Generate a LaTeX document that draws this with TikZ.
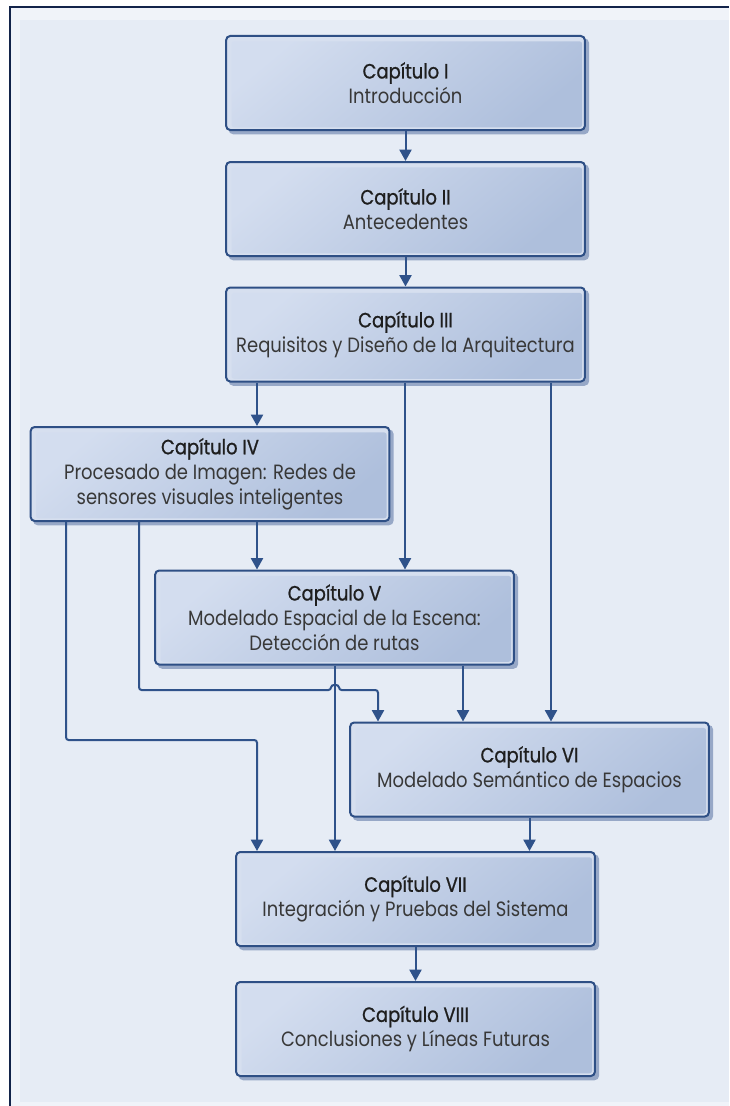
\documentclass[tikz,border=0pt]{standalone}
\usepackage{fontspec}
\setmainfont{Poppins}[FakeStretch=0.87]
\newfontfamily\headfont{Poppins}[FakeStretch=0.87,FakeBold=0.9]
\usetikzlibrary{arrows.meta}

\definecolor{pagebg}{HTML}{E6ECF5}
\definecolor{pagerim}{HTML}{F0F3F9}
\definecolor{frameline}{HTML}{13244A}
\definecolor{boxline}{HTML}{2E4F85}
\definecolor{boxrim}{HTML}{D6DFEF}
\definecolor{gradA}{HTML}{D3DDEF}
\definecolor{gradB}{HTML}{AEBFDC}
\definecolor{boxshadow}{HTML}{97A8C7}
\definecolor{arrowline}{HTML}{2F528A}
\definecolor{headtext}{HTML}{1E1E1E}
\definecolor{bodytext}{HTML}{383838}

\tikzset{
  chapter/.style={
    draw=boxline, line width=1.5pt, rounded corners=3pt, fill=boxrim,
    minimum width=269pt, minimum height=70.5pt, inner sep=0pt,
    align=center, text=bodytext,
    font=\fontsize{15.5}{18.75}\selectfont,
    preaction={fill=boxshadow, draw=boxshadow,
               transform canvas={xshift=2.5pt,yshift=-2.5pt}},
    path picture={
      \shade[top color=gradA, bottom color=gradB, shading angle=40,
             rounded corners=2pt]
        ([shift={(4pt,-4pt)}]path picture bounding box.north west)
        rectangle
        ([shift={(-2pt,2pt)}]path picture bounding box.south east);
    }
  },
  arr/.style={draw=arrowline, line width=1.5pt, rounded corners=2pt,
    -{Triangle[length=8.5pt,width=9pt]}},
}
\newcommand{\chead}[1]{{\headfont\color{headtext}#1}}

\begin{document}
\begin{tikzpicture}[x=0.75pt,y=-0.75pt]
  \useasboundingbox (0,0) rectangle (729,1106);

  % page background and frame
  \fill[white] (0,0) rectangle (729,1106);
  \fill[pagerim] (10,7) rectangle (729,1106);
  \fill[pagebg] (20,20) rectangle (729,1102);
  \draw[frameline, line width=1.8pt] (10,1106) -- (10,7) -- (729,7);

  % chapter boxes
  \node[chapter] (c1) at (405.5,83)   {\chead{Capítulo I}\\Introducción};
  \node[chapter] (c2) at (405.5,209)  {\chead{Capítulo II}\\Antecedentes};
  \node[chapter] (c3) at (405.5,334.5){\chead{Capítulo III}\\Requisitos y Diseño de la Arquitectura};
  \node[chapter] (c4) at (210,474)    {\chead{Capítulo IV}\\Procesado de Imagen: Redes de\\sensores visuales inteligentes};
  \node[chapter] (c5) at (334.5,617.5){\chead{Capítulo V}\\Modelado Espacial de la Escena:\\Detección de rutas};
  \node[chapter] (c6) at (529.5,769.5){\chead{Capítulo VI}\\Modelado Semántico de Espacios};
  \node[chapter] (c7) at (415.5,899)  {\chead{Capítulo VII}\\Integración y Pruebas del Sistema};
  \node[chapter] (c8) at (415.5,1029) {\chead{Capítulo VIII}\\Conclusiones y Líneas Futuras};

  % connector columns and bends
  \coordinate (colA) at (66,0);
  \coordinate (colB) at (139,0);
  \coordinate (colC) at (257,0);
  \coordinate (colD) at (335,0);
  \coordinate (colE) at (378,0);
  \coordinate (colF) at (405,0);
  \coordinate (colG) at (463,0);
  \coordinate (colI) at (551,0);
  \coordinate (bendA) at (257,740);
  \coordinate (hopL) at (331,690);
  \coordinate (hopR) at (339,690);

  % connectors
  \draw[arr] (c1.south) -- (c2.north);
  \draw[arr] (c2.south) -- (c3.north);
  \draw[arr] (c3.south -| colC) -- (c4.north -| colC);
  \draw[arr] (c3.south -| colF) -- (c5.north -| colF);
  \draw[arr] (c3.south -| colI) -- (c6.north -| colI);
  \draw[arr] (c4.south -| colC) -- (c5.north -| colC);
  \draw[arr] (c5.south -| colD) -- (c7.north -| colD);
  \draw[arr] (c4.south -| colB) |- (hopL)
             .. controls (331,684) and (339,684) .. (hopR)
             -| (c6.north -| colE);
  \draw[arr] (c5.south -| colG) -- (c6.north -| colG);
  \draw[arr] (c4.south -| colA) |- (bendA) -- (c7.north -| colC);
  \draw[arr] (c6.south) -- (c7.north -| c6.south);
  \draw[arr] (c7.south) -- (c8.north);
\end{tikzpicture}
\end{document}
